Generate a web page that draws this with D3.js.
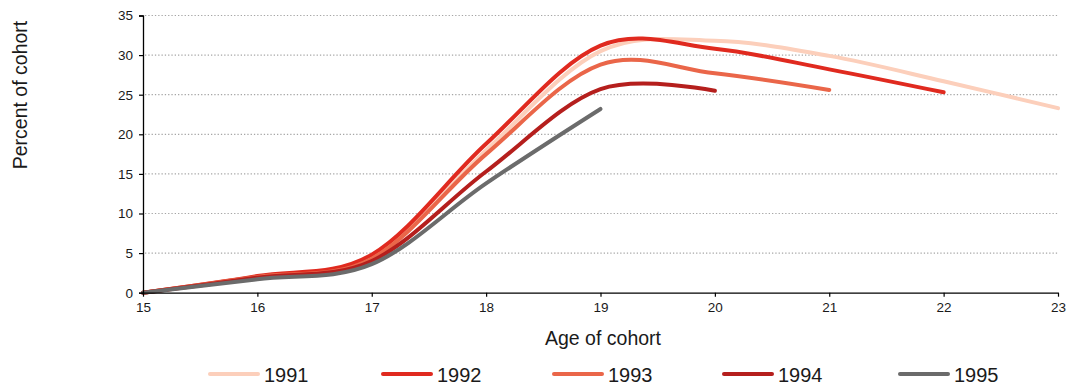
<!DOCTYPE html>
<html>
<head>
<meta charset="utf-8">
<script src="https://cdn.jsdelivr.net/npm/d3@7"></script>
<style>
  html, body { margin: 0; padding: 0; background: #fff; }
  svg { display: block; }
  text { font-family: Arial, "Liberation Sans", sans-serif; fill: #1a1a1a; }
</style>
</head>
<body>
<svg id="chart" width="1068" height="387"></svg>
<script>
// Ages at which each cohort is observed
const ages = [15, 16, 17, 18, 19, 20, 21, 22, 23];

// Percent of cohort, by cohort year
const cohort1991 = [0, 2.0, 4.2, 18.0, 30.5, 31.8, 29.9, 26.7, 23.3];
const cohort1992 = [0, 2.1, 4.8, 18.8, 31.2, 30.8, 28.2, 25.3];
const cohort1993 = [0, 2.0, 4.3, 17.5, 28.8, 27.7, 25.6];
const cohort1994 = [0, 1.9, 4.0, 15.3, 25.7, 25.5];
const cohort1995 = [0, 1.7, 3.6, 13.8, 23.2];

const seriesNames = ["1991", "1992", "1993", "1994", "1995"];
const seriesColors = ["#fccfbb", "#e02a1f", "#ea6649", "#b51f1d", "#6b6b6b"];

const yTicks = [0, 5, 10, 15, 20, 25, 30, 35];
const xTicks = [15, 16, 17, 18, 19, 20, 21, 22, 23];

const series = [cohort1991, cohort1992, cohort1993, cohort1994, cohort1995].map((vals, i) => ({
  name: seriesNames[i],
  color: seriesColors[i],
  points: vals.map((v, j) => ({ age: ages[j], value: v }))
}));

const svg = d3.select("#chart");

const x = d3.scaleLinear().domain([15, 23]).range([143, 1058]);
const y = d3.scaleLinear().domain([0, 35]).range([292.7, 15.5]);

// Dotted horizontal gridlines
svg.append("g")
  .selectAll("line")
  .data(yTicks.filter(d => d > 0))
  .join("line")
  .attr("x1", x(15) + 2)
  .attr("x2", x(23))
  .attr("y1", d => y(d))
  .attr("y2", d => y(d))
  .attr("stroke", "#a6a6a6")
  .attr("stroke-width", 1.2)
  .attr("stroke-dasharray", "1.3,2");

// Smoothed cohort lines
const line = d3.line()
  .x(d => x(d.age))
  .y(d => y(d.value))
  .curve(d3.curveCardinal.tension(0));

svg.append("g")
  .selectAll("path")
  .data(series)
  .join("path")
  .attr("d", d => line(d.points))
  .attr("fill", "none")
  .attr("stroke", d => d.color)
  .attr("stroke-width", 4)
  .attr("stroke-linecap", "round")
  .attr("stroke-linejoin", "round");

// Y axis
const yAxis = svg.append("g")
  .attr("transform", `translate(${x(15)},0)`)
  .call(d3.axisLeft(y).tickValues(yTicks).tickSize(4).tickPadding(6));
yAxis.select(".domain").attr("stroke", "#000").attr("stroke-width", 1.3);
yAxis.selectAll(".tick line").attr("stroke", "#000").attr("stroke-width", 1.2);
yAxis.selectAll("text").style("font-size", "13.5px").attr("fill", "#1a1a1a");

// X axis
const xAxis = svg.append("g")
  .attr("transform", `translate(0,${y(0)})`)
  .call(d3.axisBottom(x).tickValues(xTicks).tickSize(4).tickPadding(6).tickSizeOuter(0));
xAxis.select(".domain").attr("stroke", "#000").attr("stroke-width", 1.3);
xAxis.selectAll(".tick line").attr("stroke", "#000").attr("stroke-width", 1.2);
xAxis.selectAll("text").style("font-size", "13.5px").attr("fill", "#1a1a1a");

// Axis titles
svg.append("text")
  .attr("transform", "translate(27,95) rotate(-90)")
  .attr("text-anchor", "middle")
  .style("font-size", "19.5px")
  .text("Percent of cohort");

svg.append("text")
  .attr("x", 603)
  .attr("y", 345)
  .attr("text-anchor", "middle")
  .style("font-size", "19.5px")
  .text("Age of cohort");

// Legend
const legendX = [210, 383, 554, 724, 900];
const legend = svg.append("g")
  .selectAll("g")
  .data(series)
  .join("g")
  .attr("transform", (d, i) => `translate(${legendX[i]},374)`);
legend.append("line")
  .attr("x1", 0).attr("x2", 48)
  .attr("y1", 0).attr("y2", 0)
  .attr("stroke", d => d.color)
  .attr("stroke-width", 4)
  .attr("stroke-linecap", "round");
legend.append("text")
  .attr("x", 54)
  .attr("y", 7.5)
  .style("font-family", "'Liberation Sans Narrow', 'Arial Narrow', Arial, sans-serif")
  .style("font-size", "20px")
  .text(d => d.name);
</script>
</body>
</html>
